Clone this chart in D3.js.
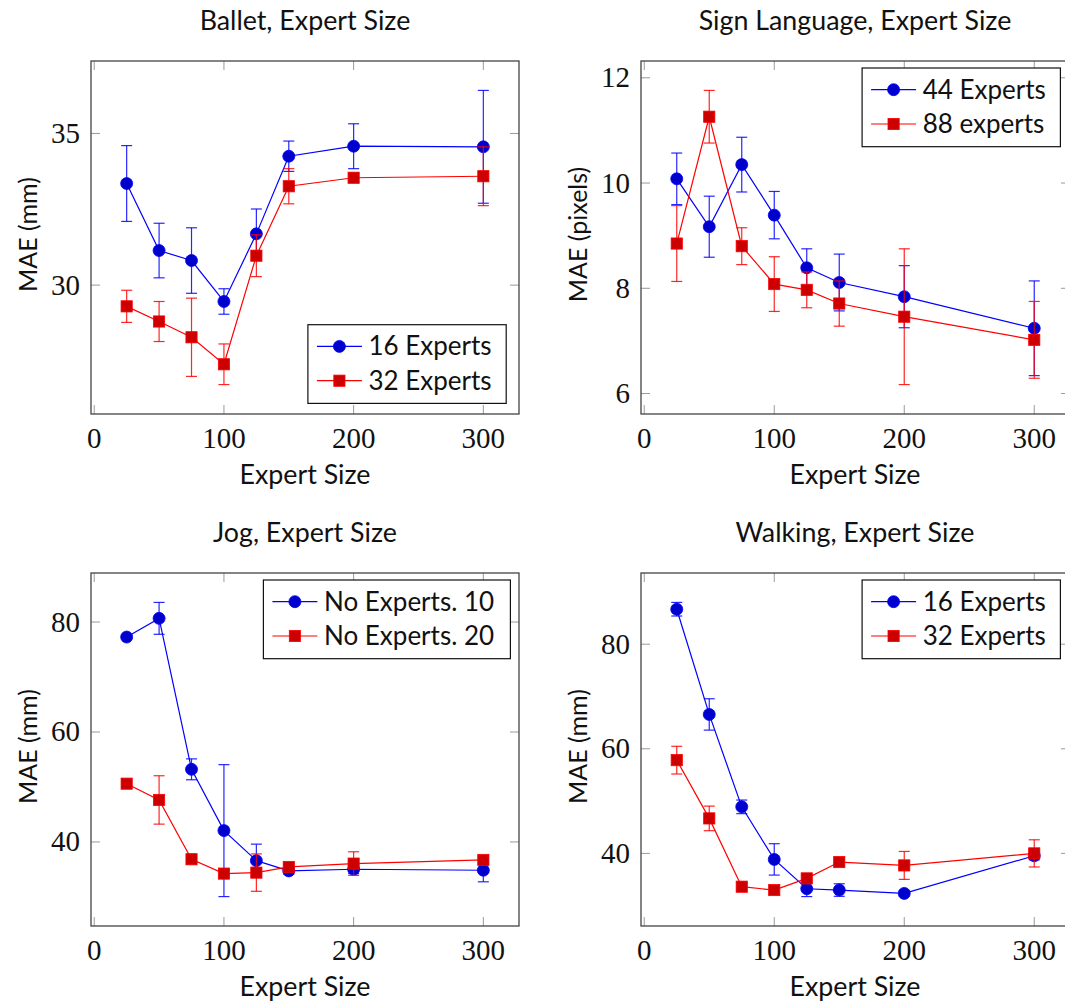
<!DOCTYPE html>
<html>
<head>
<meta charset="utf-8">
<script src="https://cdn.jsdelivr.net/npm/d3@7/dist/d3.min.js"></script>
<style>
  html, body { margin: 0; padding: 0; background: #fff; }
  svg { display: block; }
  .sans { font-family: Lato, "Open Sans", sans-serif; fill: #111; }
  .serif { font-family: "Liberation Serif", "DejaVu Serif", serif; fill: #111; }
</style>
</head>
<body>
<svg id="chart" width="1065" height="1005"></svg>
<script>
// Expert sizes shared by every panel
const expertSizes = [25, 50, 75, 100, 125, 150, 200, 300];
const xTicks = [0, 100, 200, 300];

// Ballet (mm)
const balletMean16 = [33.35, 31.14, 30.81, 29.46, 31.69, 34.25, 34.58, 34.56];
const balletErr16  = [1.25, 0.90, 1.08, 0.42, 0.82, 0.50, 0.74, 1.86];
const balletMean32 = [29.30, 28.80, 28.28, 27.39, 30.97, 33.26, 33.54, 33.59];
const balletErr32  = [0.53, 0.66, 1.29, 0.67, 0.69, 0.58, 0.15, 0.97];
const balletYTicks = [30, 35];

// Sign language (pixels)
const signMean44 = [10.08, 9.17, 10.35, 9.39, 8.39, 8.11, 7.84, 7.24];
const signErr44  = [0.49, 0.58, 0.52, 0.45, 0.36, 0.54, 0.59, 0.90];
const signMean88 = [8.85, 11.26, 8.80, 8.08, 7.97, 7.71, 7.46, 7.02];
const signErr88  = [0.72, 0.50, 0.35, 0.52, 0.34, 0.43, 1.29, 0.73];
const signYTicks = [6, 8, 10, 12];

// Jog (mm)
const jogMean10 = [77.27, 80.67, 53.21, 42.06, 36.60, 34.73, 35.03, 34.85];
const jogErr10  = [0.30, 2.90, 1.90, 12.00, 3.00, 0.60, 0.80, 2.10];
const jogMean20 = [50.60, 47.64, 36.85, 34.24, 34.42, 35.45, 36.06, 36.73];
const jogErr20  = [0.40, 4.40, 0.50, 0.60, 3.40, 0.50, 2.15, 0.50];
const jogYTicks = [40, 60, 80];

// Walking (mm)
const walkMean16 = [86.69, 66.57, 48.90, 38.85, 33.24, 32.99, 32.35, 39.55];
const walkErr16  = [1.30, 3.00, 1.30, 3.00, 1.50, 1.20, 0.50, 0.80];
const walkMean32 = [57.83, 46.69, 33.63, 32.99, 35.22, 38.34, 37.70, 40.00];
const walkErr32  = [2.65, 2.35, 0.80, 0.50, 0.60, 0.50, 2.67, 2.60];
const walkYTicks = [40, 60, 80];

const panels = [
  { title: "Ballet, Expert Size", yLabel: "MAE (mm)", yTicks: balletYTicks,
    series: [["16 Experts", balletMean16, balletErr16], ["32 Experts", balletMean32, balletErr32]],
    frame: { left: 91, right: 519, top: 61, bottom: 414 }, legend: { pos: "se", width: 198.3 } },
  { title: "Sign Language, Expert Size", yLabel: "MAE (pixels)", yTicks: signYTicks,
    series: [["44 Experts", signMean44, signErr44], ["88 experts", signMean88, signErr88]],
    frame: { left: 641, right: 1070, top: 61, bottom: 414 }, legend: { pos: "ne", width: 198.3 } },
  { title: "Jog, Expert Size", yLabel: "MAE (mm)", yTicks: jogYTicks,
    series: [["No Experts. 10", jogMean10, jogErr10], ["No Experts. 20", jogMean20, jogErr20]],
    frame: { left: 91, right: 519, top: 573, bottom: 926 }, legend: { pos: "ne", width: 247 } },
  { title: "Walking, Expert Size", yLabel: "MAE (mm)", yTicks: walkYTicks,
    series: [["16 Experts", walkMean16, walkErr16], ["32 Experts", walkMean32, walkErr32]],
    frame: { left: 641, right: 1070, top: 573, bottom: 926 }, legend: { pos: "ne", width: 198.3 } }
];

const styles = [
  { line: "#0000ff", fill: "#0000cc", mark: "circle" },
  { line: "#ff0000", fill: "#cc0000", mark: "square" }
];

const svg = d3.select("#chart");

function drawMark(g, kind, cx, cy, st) {
  if (kind === "circle") {
    g.append("circle").attr("cx", cx).attr("cy", cy).attr("r", 6)
      .attr("fill", st.fill).attr("stroke", st.line).attr("stroke-width", 0.8);
  } else {
    g.append("rect").attr("x", cx - 5.6).attr("y", cy - 5.6)
      .attr("width", 11.2).attr("height", 11.2)
      .attr("fill", st.fill).attr("stroke", st.line).attr("stroke-width", 0.8);
  }
}

// Enlarge the data range by 10% on each side, error bars included
function paddedDomain(vals) {
  const lo = d3.min(vals), hi = d3.max(vals);
  const pad = (hi - lo) * 0.1;
  return [lo - pad, hi + pad];
}

panels.forEach(p => {
  const f = p.frame;
  const g = svg.append("g");

  const x = d3.scaleLinear().domain(paddedDomain(expertSizes)).range([f.left, f.right]);
  const allY = [];
  p.series.forEach(([, m, e]) => m.forEach((v, i) => { allY.push(v - e[i], v + e[i]); }));
  const y = d3.scaleLinear().domain(paddedDomain(allY)).range([f.bottom, f.top]);

  // Inward ticks on all four sides
  const tickLen = 9;
  const tickG = g.append("g").attr("stroke", "#9a9a9a").attr("stroke-width", 1);
  xTicks.forEach(t => {
    const px = x(t);
    tickG.append("line").attr("x1", px).attr("x2", px).attr("y1", f.bottom).attr("y2", f.bottom - tickLen);
    tickG.append("line").attr("x1", px).attr("x2", px).attr("y1", f.top).attr("y2", f.top + tickLen);
  });
  p.yTicks.forEach(t => {
    const py = y(t);
    tickG.append("line").attr("x1", f.left).attr("x2", f.left + tickLen).attr("y1", py).attr("y2", py);
    tickG.append("line").attr("x1", f.right).attr("x2", f.right - tickLen).attr("y1", py).attr("y2", py);
  });

  // Tick labels
  xTicks.forEach(t => {
    g.append("text").attr("class", "serif").attr("x", x(t)).attr("y", f.bottom + 34)
      .attr("text-anchor", "middle").attr("font-size", 29).text(t);
  });
  p.yTicks.forEach(t => {
    g.append("text").attr("class", "serif").attr("x", f.left - 11).attr("y", y(t) + 9.5)
      .attr("text-anchor", "end").attr("font-size", 29).text(t);
  });

  // Series: connecting line, error bars, markers
  p.series.forEach(([name, means, errs], si) => {
    const st = styles[si];
    const pts = expertSizes.map((xv, i) => [x(xv), y(means[i])]);
    g.append("path").attr("d", d3.line()(pts)).attr("fill", "none")
      .attr("stroke", st.line).attr("stroke-width", 1.2);
    const eb = g.append("g").attr("stroke", st.line).attr("stroke-width", 1.2).attr("stroke-opacity", 0.85);
    expertSizes.forEach((xv, i) => {
      const px = x(xv), y1 = y(means[i] + errs[i]), y2 = y(means[i] - errs[i]);
      eb.append("line").attr("x1", px).attr("x2", px).attr("y1", y1).attr("y2", y2);
      eb.append("line").attr("x1", px - 5.5).attr("x2", px + 5.5).attr("y1", y1).attr("y2", y1);
      eb.append("line").attr("x1", px - 5.5).attr("x2", px + 5.5).attr("y1", y2).attr("y2", y2);
    });
    pts.forEach(([px, py]) => drawMark(g, st.mark, px, py, st));
  });

  // Frame
  g.append("rect").attr("x", f.left).attr("y", f.top)
    .attr("width", f.right - f.left).attr("height", f.bottom - f.top)
    .attr("fill", "none").attr("stroke", "#444").attr("stroke-width", 1.3);

  // Title and axis labels, centred on the nominal 428 px plot width
  const cx = f.left + 214;
  g.append("text").attr("class", "sans").attr("x", cx).attr("y", f.top - 31)
    .attr("text-anchor", "middle").attr("font-size", 26.8).text(p.title);
  g.append("text").attr("class", "sans").attr("x", cx).attr("y", f.bottom + 70)
    .attr("text-anchor", "middle").attr("font-size", 26.8).text("Expert Size");
  const ly = (f.top + f.bottom) / 2 - 3;
  const lx = f.left - 53.7;
  g.append("text").attr("class", "sans")
    .attr("transform", `translate(${lx},${ly}) rotate(-90)`)
    .attr("text-anchor", "middle").attr("font-size", 25).text(p.yLabel);

  // Legend
  const lw = p.legend.width, lh = 78.7;
  const lRight = f.left + 428 - (p.legend.pos === "se" ? 12.8 : 8.6);
  const lTop = p.legend.pos === "se" ? f.bottom - 10.6 - lh : f.top + 7;
  const lLeft = lRight - lw;
  const lg = g.append("g");
  lg.append("rect").attr("x", lLeft).attr("y", lTop).attr("width", lw).attr("height", lh)
    .attr("fill", "#fff").attr("stroke", "#111").attr("stroke-width", 1.2);
  p.series.forEach(([name], si) => {
    const st = styles[si];
    const ry = lTop + 21.7 + si * 34.3;
    lg.append("line").attr("x1", lLeft + 9).attr("x2", lLeft + 54).attr("y1", ry).attr("y2", ry)
      .attr("stroke", st.line).attr("stroke-width", 1.2);
    drawMark(lg, st.mark, lLeft + 31.5, ry, st);
    lg.append("text").attr("class", "sans").attr("x", lLeft + 60.6).attr("y", ry + 9)
      .attr("font-size", 26).text(name);
  });
});
</script>
</body>
</html>
